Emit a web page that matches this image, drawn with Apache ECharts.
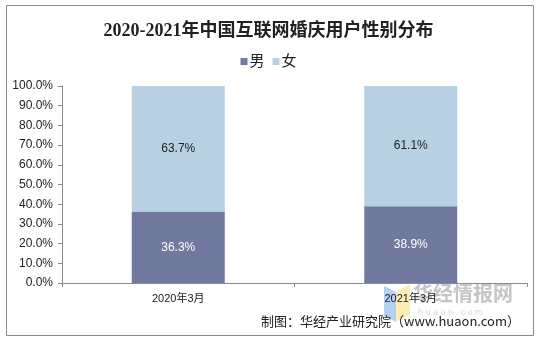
<!DOCTYPE html>
<html>
<head>
<meta charset="utf-8">
<script src="https://cdn.jsdelivr.net/npm/echarts@6/dist/echarts.min.js"></script>
<style>
html,body{margin:0;padding:0;background:#fff;}
#chart{width:537px;height:340px;}
</style>
</head>
<body>
<div id="chart"></div>
<script>
const categories = ['2020年3月', '2021年3月'];
const maleValues = [36.3, 38.9];
const femaleValues = [63.7, 61.1];
const yTicks = [0, 10, 20, 30, 40, 50, 60, 70, 80, 90, 100];
const titleText = '2020-2021年中国互联网婚庆用户性别分布';
const sourceText = '制图：华经产业研究院（www.huaon.com）';

const chart = echarts.init(document.getElementById('chart'), null, {renderer: 'canvas'});
const baseFont = '"Liberation Sans", Arial, "Noto Sans CJK SC", sans-serif';

chart.setOption({
  animation: false,
  backgroundColor: '#fff',
  title: {
    text: titleText,
    left: 'center',
    top: 17,
    textStyle: {
      fontFamily: '"Liberation Serif", "Noto Sans CJK SC", serif',
      fontWeight: 'bold',
      fontSize: 18,
      color: '#222'
    }
  },
  legend: {
    top: 49,
    left: 'center',
    itemWidth: 7,
    itemHeight: 7,
    itemGap: 8,
    icon: 'rect',
    textStyle: {fontFamily: baseFont, fontSize: 15, color: '#222', padding: [0, 0, 0, -3]},
    data: ['男', '女']
  },
  grid: {left: 62, right: 10, top: 86, bottom: 57},
  xAxis: {
    type: 'category',
    data: categories,
    axisLine: {lineStyle: {color: '#8a8a8a', width: 1}},
    axisTick: {show: true, length: 4, lineStyle: {color: '#8a8a8a'}},
    axisLabel: {fontFamily: baseFont, fontSize: 11, color: '#222', margin: 10}
  },
  yAxis: {
    type: 'value',
    min: 0,
    max: 100,
    interval: 10,
    axisLine: {show: true, lineStyle: {color: '#8a8a8a', width: 1}},
    axisTick: {show: true, length: 4, lineStyle: {color: '#8a8a8a'}},
    splitLine: {show: false},
    axisLabel: {
      fontFamily: baseFont, fontSize: 12, color: '#222', margin: 9,
      formatter: v => yTicks.includes(v) ? v.toFixed(1) + '%' : ''
    }
  },
  series: [
    {
      name: '男',
      type: 'bar',
      stack: 'total',
      barWidth: '40%',
      data: maleValues,
      itemStyle: {color: '#72799f'},
      label: {show: true, position: 'inside', formatter: p => p.value.toFixed(1) + '%',
        color: '#fff', fontFamily: baseFont, fontSize: 12}
    },
    {
      name: '女',
      type: 'bar',
      stack: 'total',
      barWidth: '40%',
      data: femaleValues,
      itemStyle: {color: '#b8d1e2'},
      label: {show: true, position: 'inside', formatter: p => p.value.toFixed(1) + '%',
        color: '#222', fontFamily: baseFont, fontSize: 12}
    }
  ],
  graphic: [
    {
      type: 'rect',
      shape: {x: 6.5, y: 5.5, width: 527, height: 330},
      style: {fill: 'none', stroke: '#8a8a8a', lineWidth: 1},
      silent: true
    },
    {
      type: 'polygon',
      shape: {points: [[384, 286], [396, 292], [396, 322], [384, 316]]},
      style: {fill: 'rgba(120,170,230,0.55)'},
      silent: true
    },
    {
      type: 'polygon',
      shape: {points: [[396, 292], [410, 284], [410, 314], [396, 322]]},
      style: {fill: 'rgba(250,220,120,0.55)'},
      silent: true
    },
    {
      type: 'text',
      left: 413,
      top: 283,
      style: {text: '华经情报网', fill: 'rgba(150,150,150,0.55)', font: 'bold 20px "Noto Sans CJK SC", sans-serif'},
      silent: true
    },
    {
      type: 'text',
      left: 418,
      top: 308,
      style: {text: 'h u a o n . c o m', fill: 'rgba(170,170,170,0.45)', font: '9px "Liberation Sans", sans-serif'},
      silent: true
    },
    {
      type: 'text',
      right: 17,
      top: 315,
      style: {text: sourceText, fill: '#222', font: '13px "Noto Sans CJK SC", sans-serif'},
      silent: true
    }
  ]
});
</script>
</body>
</html>
